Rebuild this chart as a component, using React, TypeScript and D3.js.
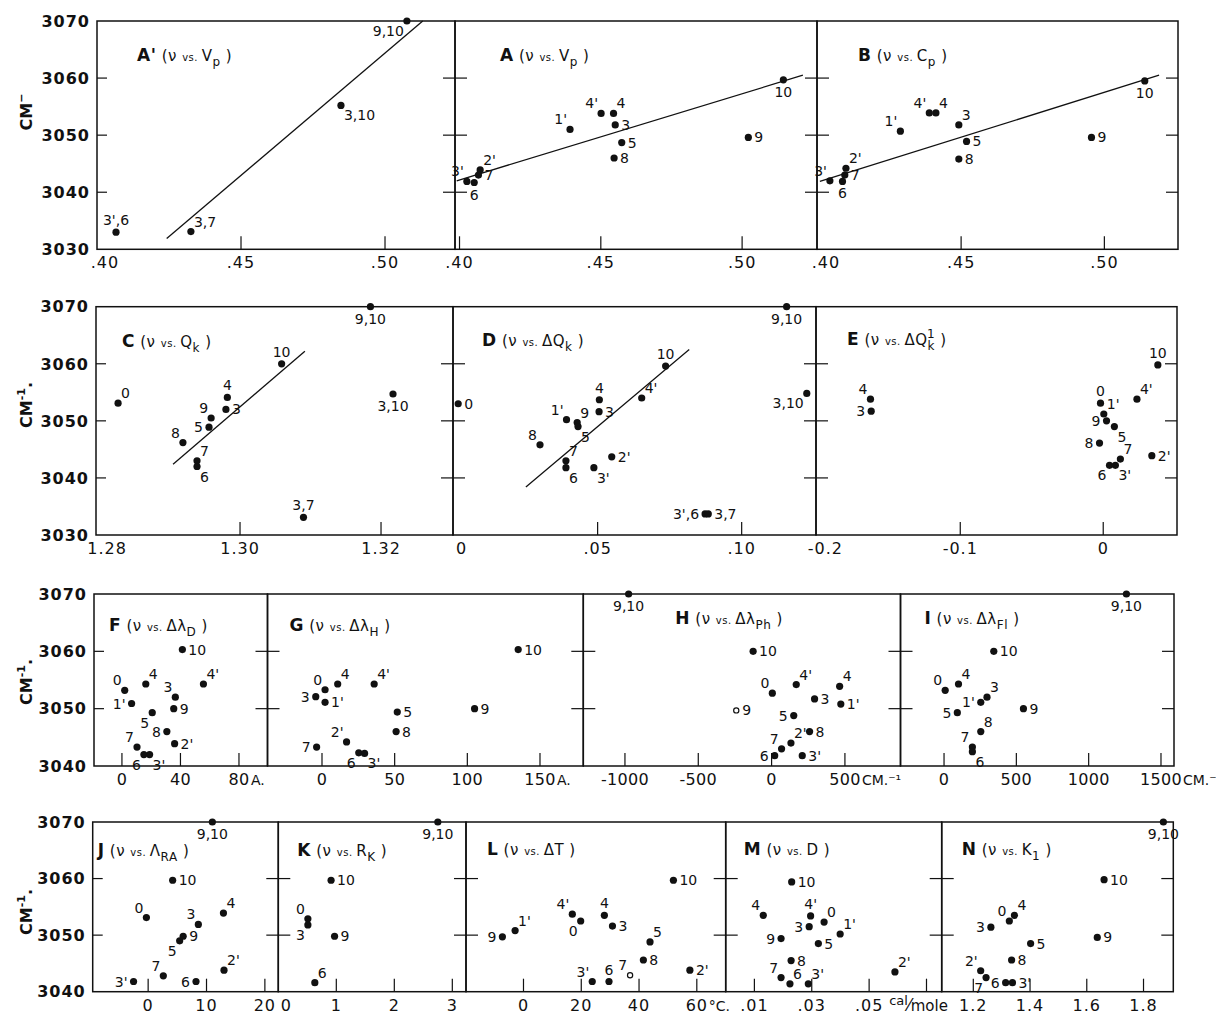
import React from 'react';
import * as d3 from 'd3';

type Pt = [string, number, number];

// ν (cm-1) of each compound against the parameter of each panel: [label, x, ν]
const ptsA1: Pt[] = [['9,10', 0.5076, 3070], ['3,10', 0.4847, 3055.2], ['3,7', 0.4326, 3033.1], ["3',6", 0.4066, 3033]];
const ptsA: Pt[] = [['10', 0.5146, 3059.7], ['9', 0.5022, 3049.6], ["4'", 0.4501, 3053.8], ['4', 0.4545, 3053.8], ['3', 0.4551, 3051.8], ["1'", 0.4391, 3051], ['5', 0.4574, 3048.7], ['8', 0.4547, 3046], ["2'", 0.4073, 3043.9], ['7', 0.4067, 3043], ['6', 0.4052, 3041.7], ["3'", 0.4026, 3041.9]];
const ptsB: Pt[] = [['10', 0.5141, 3059.5], ['9', 0.4955, 3049.6], ["4'", 0.4389, 3053.9], ['4', 0.4412, 3053.9], ["1'", 0.4288, 3050.7], ['3', 0.4492, 3051.8], ['5', 0.4519, 3048.9], ['8', 0.4492, 3045.8], ["2'", 0.4098, 3044.2], ['7', 0.4094, 3043], ['6', 0.4086, 3041.9], ["3'", 0.4042, 3042]];
const ptsC: Pt[] = [['0', 1.2827, 3053.1], ['8', 1.2919, 3046.2], ['5', 1.2956, 3048.9], ['9', 1.2959, 3050.5], ['3', 1.298, 3052], ['4', 1.2982, 3054.1], ['10', 1.3059, 3060], ['7', 1.2939, 3043], ['6', 1.2939, 3042], ['3,10', 1.3217, 3054.7], ['3,7', 1.309, 3033.1], ['9,10', 1.3185, 3070]];
const ptsD: Pt[] = [['0', 0.0016, 3053], ['9,10', 0.1156, 3070], ['10', 0.0736, 3059.6], ["4'", 0.0653, 3054], ['4', 0.0506, 3053.7], ['3', 0.0505, 3051.6], ["1'", 0.0392, 3050.2], ['9', 0.0429, 3049.7], ['5', 0.0432, 3049], ['8', 0.03, 3045.8], ['7', 0.039, 3043], ['6', 0.039, 3041.8], ["3'", 0.0487, 3041.8], ["2'", 0.0549, 3043.7], ['3,10', 0.1226, 3054.8], ["3',6", 0.0873, 3033.7], ['3,7', 0.0884, 3033.7]];
const ptsE: Pt[] = [['4', -0.1628, 3053.8], ['3', -0.1623, 3051.7], ['10', 0.0382, 3059.8], ['0', -0.0019, 3053.1], ["1'", 0.0004, 3051.2], ['9', 0.0023, 3050], ['5', 0.0078, 3049], ['8', -0.0026, 3046.1], ["4'", 0.0236, 3053.8], ['7', 0.012, 3043.3], ['6', 0.0044, 3042.2], ["3'", 0.0085, 3042.2], ["2'", 0.034, 3043.9]];
const ptsF: Pt[] = [['0', 1.9, 3053.2], ["1'", 6.6, 3050.9], ['4', 16.3, 3054.3], ['5', 20.7, 3049.3], ['3', 36.5, 3052], ['9', 35.4, 3050], ['8', 30.7, 3046], ['10', 41.3, 3060.3], ["4'", 55.7, 3054.3], ["2'", 36, 3043.9], ['7', 10.3, 3043.3], ['6', 15, 3042], ["3'", 18.9, 3042]];
const ptsG: Pt[] = [['3', -4.3, 3052.1], ['0', 2.1, 3053.3], ["1'", 2.1, 3051.1], ['4', 10.8, 3054.3], ["4'", 35.9, 3054.3], ['7', -3.7, 3043.3], ["2'", 16.9, 3044.2], ['6', 25.3, 3042.3], ["3'", 29.3, 3042.2], ['5', 51.8, 3049.4], ['8', 51, 3046], ['9', 105, 3050], ['10', 135, 3060.3]];
const ptsH: Pt[] = [['9,10', -975, 3070], ['10', -126, 3060], ['0', 5, 3052.7], ["4'", 168, 3054.2], ['4', 464, 3053.9], ['3', 293, 3051.7], ["1'", 472, 3050.8], ['9', -241, 3049.7], ['5', 151, 3048.8], ['8', 259, 3046], ["2'", 132, 3044], ['7', 68, 3043], ['6', 21, 3041.8], ["3'", 209, 3041.8]];
const ptsI: Pt[] = [['9,10', 1261, 3070], ['10', 344, 3060], ['0', 8, 3053.2], ['4', 100, 3054.3], ['3', 297, 3052], ["1'", 254, 3051.1], ['5', 92, 3049.3], ['9', 549, 3050], ['8', 254, 3046], ['7', 196, 3043.3], ['6', 196, 3042.5]];
const ptsJ: Pt[] = [['9,10', 11, 3070], ['10', 4.2, 3059.7], ['0', -0.3, 3053.1], ['3', 8.6, 3051.9], ['4', 12.9, 3053.9], ['5', 5.4, 3049], ['9', 6, 3049.8], ["2'", 13, 3043.8], ['7', 2.6, 3042.8], ['6', 8.2, 3041.8], ["3'", -2.5, 3041.8]];
const ptsK: Pt[] = [['9,10', 2.75, 3070], ['10', 0.91, 3059.7], ['0', 0.51, 3052.9], ['3', 0.51, 3051.8], ['9', 0.97, 3049.8], ['6', 0.63, 3041.6]];
const ptsL: Pt[] = [['9', -7.3, 3049.7], ["1'", -2.9, 3050.8], ["4'", 16.9, 3053.7], ['0', 19.8, 3052.5], ['4', 28, 3053.5], ['3', 30.8, 3051.6], ['10', 51.9, 3059.7], ['5', 43.8, 3048.8], ['8', 41.5, 3045.6], ["2'", 57.6, 3043.8], ['7', 36.9, 3042.9], ['6', 29.6, 3041.8], ["3'", 23.8, 3041.8]];
const ptsM: Pt[] = [['10', 0.023, 3059.4], ['4', 0.0131, 3053.5], ["4'", 0.0296, 3053.4], ['0', 0.0343, 3052.3], ['3', 0.0291, 3051.5], ['9', 0.0193, 3049.4], ["1'", 0.0399, 3050.2], ['5', 0.0323, 3048.5], ['8', 0.0228, 3045.5], ['7', 0.0193, 3042.5], ['6', 0.0224, 3041.4], ["3'", 0.0288, 3041.4], ["2'", 0.059, 3043.5]];
const ptsN: Pt[] = [['9,10', 1.87, 3070], ['10', 1.661, 3059.8], ['9', 1.637, 3049.6], ['4', 1.345, 3053.5], ['0', 1.327, 3052.5], ['3', 1.262, 3051.4], ['5', 1.402, 3048.5], ['8', 1.335, 3045.6], ["2'", 1.226, 3043.7], ['7', 1.245, 3042.5], ['6', 1.314, 3041.6], ["3'", 1.338, 3041.6]];

// fitted straight lines: two end points [x, ν]
const fitA1 = [[0.4242, 3031.9], [0.5131, 3070]];
const fitA = [[0.399, 3042], [0.5215, 3060.5]];
const fitB = [[0.4007, 3041.9], [0.5191, 3060.5]];
const fitC = [[1.2905, 3042.4], [1.3092, 3062.2]];
const fitD = [[0.0251, 3038.4], [0.0818, 3062.5]];

// axis ticks
const yTicks5 = [3030, 3040, 3050, 3060, 3070];
const yTicks4 = [3040, 3050, 3060, 3070];
const xtV = [0.4, 0.45, 0.5];
const xlV = ['.40', '.45', '.50'];
const xtC = [1.28, 1.3, 1.32];
const xlC = ['1.28', '1.30', '1.32'];
const xtD = [0, 0.05, 0.1];
const xlD = ['0', '.05', '.10'];
const xtE = [-0.2, -0.1, 0];
const xlE = ['-0.2', '-0.1', '0'];
const xtF = [0, 40, 80];
const xtG = [0, 50, 100, 150];
const xtH = [-1000, -500, 0, 500];
const xtI = [0, 500, 1000, 1500];
const xtJ = [0, 10, 20];
const xtK = [0, 1, 2, 3];
const xtL = [0, 20, 40, 60];
const xtM = [0.01, 0.03, 0.05, 0.07];
const xlM = ['.01', '.03', '.05', ''];
const xtN = [1.2, 1.4, 1.6, 1.8];

// where each point label sits relative to its dot
const sides: Record<string, string> = {
  A1: 'bl br ar a',
  A: 'b r al ar r al r r ar r b al',
  B: 'b r al ar al ar r r ar r b al',
  C: 'ar al l al r a a ar br b a b',
  D: 'r b a ar a r al ar br al ar br br r bl l r',
  E: 'al l a a ar l br l ar ar bl br r',
  F: 'al l ar bl al r l r ar r al bl br',
  G: 'l al r ar ar l al bl br r r r r',
  H: 'b r al ar ar r r r l r ar al l r',
  I: 'b r al ar ar l l r ar al br',
  J: 'b r al al ar bl r ar al l l',
  K: 'b r al bl r ar',
  L: 'l ar al bl a r r ar r r al a al',
  M: 'r al a ar l l ar r r al ar ar ar',
  N: 'b r r ar al l r r al bl l r',
};
const openDots = new Set(['H:9', 'L:7']);

const FONT = "'DejaVu Sans', 'Liberation Sans', sans-serif";
const INK = '#111';

type Seg = [string, string, number?];
const vsTitle = (letter: string, main: Seg[]): Seg[] => [['L', letter], ['n', ' (ν '], ['s', 'vs. '], ...main, ['n', ' )']];

const rowsCfg = [
  { top: 21, bottom: 249.3, dom: [3030, 3070], ticks: yTicks5, sup: '−', tail: '', cmY: 112 },
  { top: 306.7, bottom: 535, dom: [3030, 3070], ticks: yTicks5, sup: '-1', tail: '.', cmY: 405 },
  { top: 594, bottom: 766, dom: [3040, 3070], ticks: yTicks4, sup: '-1', tail: '.', cmY: 682 },
  { top: 822, bottom: 991.7, dom: [3040, 3070], ticks: yTicks4, sup: '-1', tail: '.', cmY: 912 },
];

interface Panel {
  id: string; row: number; px: [number, number]; dom: [number, number];
  xt: number[]; xl?: string[]; unit?: string; pts: Pt[]; fit?: number[][];
  title: Seg[]; tx: number; ty: number;
}

const panels: Panel[] = [
  { id: 'A1', row: 0, px: [97, 455], dom: [0.4, 0.5243], xt: xtV, xl: xlV, pts: ptsA1, fit: fitA1, title: vsTitle("A'", [['n', 'V'], ['sub', 'p']]), tx: 40, ty: 61 },
  { id: 'A', row: 0, px: [455, 817], dom: [0.3984, 0.5265], xt: xtV, xl: xlV, pts: ptsA, fit: fitA, title: vsTitle('A', [['n', 'V'], ['sub', 'p']]), tx: 45, ty: 61 },
  { id: 'B', row: 0, px: [817, 1178], dom: [0.3997, 0.5257], xt: xtV, xl: xlV, pts: ptsB, fit: fitB, title: vsTitle('B', [['n', 'C'], ['sub', 'p']]), tx: 41, ty: 61 },
  { id: 'C', row: 1, px: [96, 453], dom: [1.27957, 1.33021], xt: xtC, xl: xlC, pts: ptsC, fit: fitC, title: vsTitle('C', [['n', 'Q'], ['sub', 'k']]), tx: 26, ty: 347 },
  { id: 'D', row: 1, px: [453, 816], dom: [-0.0002, 0.1258], xt: xtD, xl: xlD, pts: ptsD, fit: fitD, title: vsTitle('D', [['n', 'ΔQ'], ['sub', 'k']]), tx: 29, ty: 346 },
  { id: 'E', row: 1, px: [816, 1177], dom: [-0.2009, 0.0516], xt: xtE, xl: xlE, pts: ptsE, title: vsTitle('E', [['n', 'ΔQ'], ['sub', 'k'], ['sup', '1', -8]]), tx: 31, ty: 345 },
  { id: 'F', row: 2, px: [94, 267.5], dom: [-19.1, 99.5], xt: xtF, unit: 'A.', pts: ptsF, title: vsTitle('F', [['n', 'Δλ'], ['sub', 'D']]), tx: 15, ty: 631 },
  { id: 'G', row: 2, px: [267.5, 583.3], dom: [-37.5, 179.8], xt: xtG, unit: 'A.', pts: ptsG, title: vsTitle('G', [['n', 'Δλ'], ['sub', 'H']]), tx: 22, ty: 631 },
  { id: 'H', row: 2, px: [583.3, 900.5], dom: [-1284, 879], xt: xtH, unit: 'CM.⁻¹', pts: ptsH, title: vsTitle('H', [['n', 'Δλ'], ['sub', 'Ph']]), tx: 92, ty: 624 },
  { id: 'I', row: 2, px: [900.5, 1174], dom: [-301, 1590], xt: xtI, unit: 'CM.⁻', pts: ptsI, title: vsTitle('I', [['n', 'Δλ'], ['sub', 'Fl']]), tx: 24, ty: 624 },
  { id: 'J', row: 3, px: [92.7, 278.3], dom: [-9.5, 22.3], xt: xtJ, pts: ptsJ, title: vsTitle('J', [['n', 'Λ'], ['sub', 'RA']]), tx: 5, ty: 856 },
  { id: 'K', row: 3, px: [278.3, 466], dom: [0, 3.236], xt: xtK, pts: ptsK, title: vsTitle('K', [['n', 'R'], ['sub', 'K']]), tx: 19, ty: 856 },
  { id: 'L', row: 3, px: [466, 725.7], dom: [-19.9, 70], xt: xtL, unit: '°C.', pts: ptsL, title: vsTitle('L', [['n', 'ΔT']]), tx: 21, ty: 855 },
  { id: 'M', row: 3, px: [725.7, 941.7], dom: [0, 0.0753], xt: xtM, xl: xlM, pts: ptsM, title: vsTitle('M', [['n', 'D']]), tx: 18, ty: 855 },
  { id: 'N', row: 3, px: [941.7, 1173.3], dom: [1.0886, 1.905], xt: xtN, xl: ['1.2', '1.4', '1.6', '1.8'], pts: ptsN, title: vsTitle('N', [['n', 'K'], ['sub', '1']]), tx: 20, ty: 855 },
];

const labelOff = (s: string) => {
  switch (s) {
    case 'r': return { dx: 6, dy: 5, a: 'start' };
    case 'l': return { dx: -6, dy: 5, a: 'end' };
    case 'a': return { dx: 0, dy: -7, a: 'middle' };
    case 'b': return { dx: 0, dy: 17, a: 'middle' };
    case 'ar': return { dx: 3, dy: -5, a: 'start' };
    case 'al': return { dx: -3, dy: -5, a: 'end' };
    case 'br': return { dx: 3, dy: 15, a: 'start' };
    default: return { dx: -3, dy: 15, a: 'end' };
  }
};

const Title: React.FC<{ segs: Seg[]; x: number; y: number }> = ({ segs, x, y }) => {
  let cur = 0;
  return (
    <text x={x} y={y} fontFamily={FONT} fill={INK} letterSpacing={0.5}>
      {segs.map(([k, t, dx], i) => {
        const target = k === 'sub' ? 5 : k === 'sup' ? -7 : 0;
        const dy = target - cur;
        cur = target;
        const size = k === 'L' ? 17 : k === 's' ? 10 : k === 'sub' || k === 'sup' ? 12 : 15;
        return (
          <tspan key={i} dy={dy} dx={dx || 0} fontSize={size} fontWeight={k === 'L' ? 'bold' : 'normal'} xmlSpace="preserve">
            {t}
          </tspan>
        );
      })}
    </text>
  );
};

const PanelView: React.FC<{ p: Panel; isFirst: boolean; isLast: boolean }> = ({ p, isFirst, isLast }) => {
  const row = rowsCfg[p.row];
  const x = d3.scaleLinear().domain(p.dom).range(p.px);
  const y = d3.scaleLinear().domain(row.dom).range([row.bottom, row.top]);
  const inner = row.ticks.filter((t) => t !== row.dom[0] && t !== row.dom[1]);
  const side = sides[p.id].split(' ');
  const line = d3.line<number[]>().x((d) => x(d[0])).y((d) => y(d[1]));
  const labels = p.xl || p.xt.map(String);
  const lastLab = labels.reduce((acc, l, i) => (l ? i : acc), 0);
  return (
    <g>
      <rect x={p.px[0]} y={row.top} width={p.px[1] - p.px[0]} height={row.bottom - row.top} fill="none" stroke={INK} strokeWidth={1.5} />
      {inner.map((t) => (
        <g key={t} stroke={INK} strokeWidth={1.2}>
          {isFirst ? (
            <line x1={p.px[0]} x2={p.px[0] + 10} y1={y(t)} y2={y(t)} />
          ) : (
            <line x1={p.px[0] - 12} x2={p.px[0] + 12} y1={y(t)} y2={y(t)} />
          )}
          {isLast && <line x1={p.px[1] - 12} x2={p.px[1]} y1={y(t)} y2={y(t)} />}
        </g>
      ))}
      {p.xt.map((t, i) => {
        const xp = x(t);
        const atEdge = Math.abs(xp - p.px[0]) < 4;
        return (
          <g key={t}>
            {!atEdge && <line x1={xp} x2={xp} y1={row.bottom} y2={row.bottom - 13} stroke={INK} strokeWidth={1.2} />}
            <text x={xp + (atEdge ? 8 : 0)} y={row.bottom + 19} fontFamily={FONT} fontSize={16} fill={INK} textAnchor="middle" letterSpacing={p.row === 2 ? 0.3 : 1}>
              {labels[i]}
            </text>
            {p.unit && i === lastLab && (
              <text x={xp + labels[i].length * 5 + 2} y={row.bottom + 19} fontFamily={FONT} fontSize={14} fill={INK}>
                {p.unit}
              </text>
            )}
            {p.id === 'M' && i === lastLab && (
              <text x={xp + 20} y={row.bottom + 19} fontFamily={FONT} fill={INK}>
                <tspan fontSize={13} dy={-6}>cal</tspan>
                <tspan fontSize={17} dy={6}>⁄</tspan>
                <tspan fontSize={15}>mole</tspan>
              </text>
            )}
          </g>
        );
      })}
      {p.fit && <path d={line(p.fit) || ''} fill="none" stroke={INK} strokeWidth={1.3} />}
      {p.pts.map(([lab, vx, vy], i) => {
        const o = labelOff(side[i]);
        const open = openDots.has(`${p.id}:${lab}`);
        return (
          <g key={i}>
            <circle cx={x(vx)} cy={y(vy)} r={open ? 2.6 : 3.6} fill={open ? 'white' : INK} stroke={INK} strokeWidth={open ? 1.2 : 0} />
            <text x={x(vx) + o.dx} y={y(vy) + o.dy} fontFamily={FONT} fontSize={14} fill={INK} textAnchor={o.a as any}>
              {lab}
            </text>
          </g>
        );
      })}
      <Title segs={p.title} x={p.px[0] + p.tx} y={p.ty} />
    </g>
  );
};

export default function App() {
  return (
    <svg width={1216} height={1018} style={{ position: 'absolute', left: 0, top: 0, display: 'block' }}>
      <rect width={1216} height={1018} fill="white" />
      {rowsCfg.map((row, r) => {
        const first = panels.find((p) => p.row === r)!;
        const y = d3.scaleLinear().domain(row.dom).range([row.bottom, row.top]);
        return (
          <g key={r}>
            {row.ticks.map((t) => (
              <text key={t} x={first.px[0] - 7} y={y(t)} dy="0.36em" fontFamily={FONT} fontSize={16} fontWeight="bold" fill={INK} textAnchor="end" letterSpacing={1}>
                {t}
              </text>
            ))}
            <text transform={`translate(32,${row.cmY}) rotate(-90)`} fontFamily={FONT} fontSize={16} fontWeight="bold" fill={INK} textAnchor="middle">
              CM<tspan fontSize={11} dy={-7}>{row.sup}</tspan>
              <tspan dy={7}>{row.tail}</tspan>
            </text>
          </g>
        );
      })}
      {panels.map((p, i) => (
        <PanelView key={p.id} p={p} isFirst={i === 0 || panels[i - 1].row !== p.row} isLast={i === panels.length - 1 || panels[i + 1].row !== p.row} />
      ))}
    </svg>
  );
}
